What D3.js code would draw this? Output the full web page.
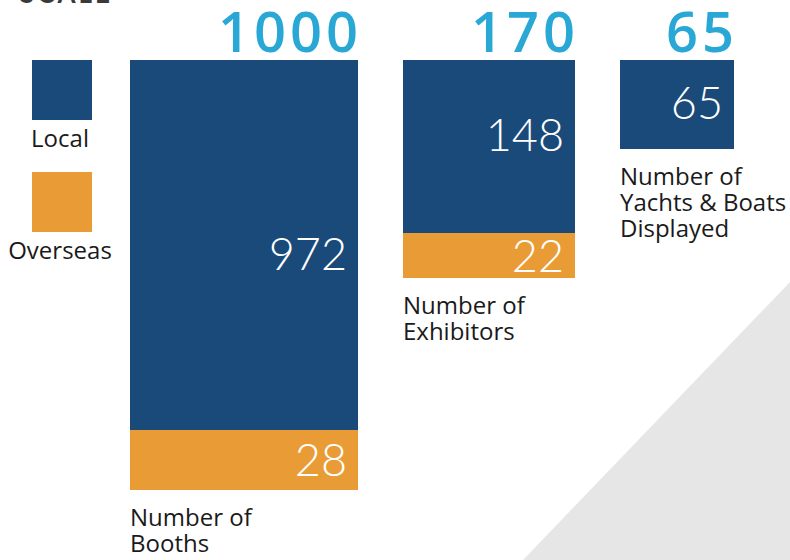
<!DOCTYPE html>
<html>
<head>
<meta charset="utf-8">
<script src="https://cdn.jsdelivr.net/npm/d3@7"></script>
<style>
  body { margin: 0; background: #fff; }
  svg { display: block; }
</style>
</head>
<body>
<div id="chart"></div>
<script>
// Data
var categories = ['booths', 'exhibitors', 'yachts']
var categoryLabels = [['Number of', 'Booths'], ['Number of', 'Exhibitors'], ['Number of', 'Yachts & Boats', 'Displayed']]
var seriesNames = ['Local', 'Overseas']
var localValues = [972, 148, 65]
var overseasValues = [28, 22, 0]
var totals = [1000, 170, 65]

var width = 790
var height = 560
var barTop = 60

var colorScale = d3.scaleOrdinal()
  .domain(['local', 'overseas'])
  .range(['#1a4a79', '#e99c35'])

// infographic layout: every panel has its own x, width and depth
var xScale = d3.scaleOrdinal().domain(categories).range([130, 403, 620])
var wScale = d3.scaleOrdinal().domain(categories).range([228, 172, 114])
var bottomScale = d3.scaleOrdinal().domain(categories).range([490, 278, 149])
var overseasDepth = d3.scaleOrdinal().domain(categories).range([60, 45, 0])
// baseline nudge of the value inside the local segment
var localLabelDy = d3.scaleOrdinal().domain(categories).range([25, 4, 14])

var table = categories.map((c, i) => ({ cat: c, local: localValues[i], overseas: overseasValues[i], total: totals[i], lines: categoryLabels[i] }))

// one piecewise y scale per panel (the picture is not drawn to a common scale)
var yScales = {}
table.forEach(d => {
  var bottom = bottomScale(d.cat)
  var split = bottom - overseasDepth(d.cat)
  yScales[d.cat] = d.overseas > 0
    ? d3.scaleLinear().domain([0, d.overseas, d.total]).range([bottom, split, barTop])
    : d3.scaleLinear().domain([0, d.total]).range([bottom, barTop])
})

var stack = d3.stack().keys(['overseas', 'local'])
var series = stack(table)

var svg = d3.select('#chart')
  .append('svg')
  .attr('width', width)
  .attr('height', height)

// grey corner
svg.append('path')
  .attr('d', d3.line()([[790, 282], [790, 560], [523, 560]]))
  .attr('fill', '#e6e6e6')

// cut-off heading
svg.append('text')
  .attr('x', 20)
  .attr('y', 3)
  .text('SCALE')
  .style('font-family', 'Lato, sans-serif')
  .style('font-weight', '700')
  .style('font-size', '26px')
  .style('letter-spacing', '3px')
  .style('fill', '#3a3a3a')

// legend
var legend = svg.selectAll('.legend')
  .data(seriesNames)
  .enter()
  .append('g')
  .attr('class', 'legend')
  .attr('transform', (d, i) => `translate(32,${60 + i * 112})`)

legend.append('rect')
  .attr('width', 60)
  .attr('height', 60)
  .attr('fill', d => colorScale(d.toLowerCase()))

legend.append('text')
  .attr('x', 28)
  .attr('y', 87)
  .text(d => d)
  .style('text-anchor', 'middle')
  .style('font-family', '"Open Sans", sans-serif')
  .style('font-size', '24px')
  .style('fill', '#1a1a1a')

// stacked bars
var layers = svg.selectAll('.layer')
  .data(series)
  .enter()
  .append('g')
  .attr('class', 'layer')
  .attr('fill', d => colorScale(d.key))

layers.selectAll('rect')
  .data(d => d.map(p => ({ key: d.key, p: p })))
  .enter()
  .append('rect')
  .attr('x', d => xScale(d.p.data.cat))
  .attr('width', d => wScale(d.p.data.cat))
  .attr('y', d => yScales[d.p.data.cat](d.p[1]))
  .attr('height', d => yScales[d.p.data.cat](d.p[0]) - yScales[d.p.data.cat](d.p[1]))

// values inside the segments
layers.selectAll('text')
  .data(d => d.map(p => ({ key: d.key, p: p })).filter(d => d.p[1] - d.p[0] > 0))
  .enter()
  .append('text')
  .attr('x', d => xScale(d.p.data.cat) + wScale(d.p.data.cat) - 11)
  .attr('y', d => {
    var y = yScales[d.p.data.cat]
    var dy = d.key === 'local' ? localLabelDy(d.p.data.cat) : 16
    return (y(d.p[0]) + y(d.p[1])) / 2 + dy
  })
  .text(d => d.p[1] - d.p[0])
  .style('text-anchor', 'end')
  .style('font-family', 'Lato, sans-serif')
  .style('font-weight', '300')
  .style('font-size', '45px')
  .style('fill', 'white')

// totals above
svg.selectAll('.total')
  .data(table)
  .enter()
  .append('text')
  .attr('class', 'total')
  .attr('x', d => xScale(d.cat) + wScale(d.cat))
  .attr('dx', 4)
  .attr('y', barTop - 8)
  .text(d => d.total)
  .style('text-anchor', 'end')
  .style('font-family', '"Open Sans", sans-serif')
  .style('font-weight', '600')
  .style('font-size', '56px')
  .style('letter-spacing', '4px')
  .style('fill', '#29a8d6')

// category names below
var names = svg.selectAll('.name')
  .data(table)
  .enter()
  .append('text')
  .attr('class', 'name')
  .attr('x', d => xScale(d.cat))
  .attr('y', d => bottomScale(d.cat) + 36)
  .style('font-family', '"Open Sans", sans-serif')
  .style('font-size', '24px')
  .style('fill', '#1a1a1a')

names.selectAll('tspan')
  .data(d => d.lines.map(l => ({ l: l, x: xScale(d.cat) })))
  .enter()
  .append('tspan')
  .attr('x', d => d.x)
  .attr('dy', (d, i) => i === 0 ? 0 : 26)
  .text(d => d.l)
</script>
</body>
</html>
